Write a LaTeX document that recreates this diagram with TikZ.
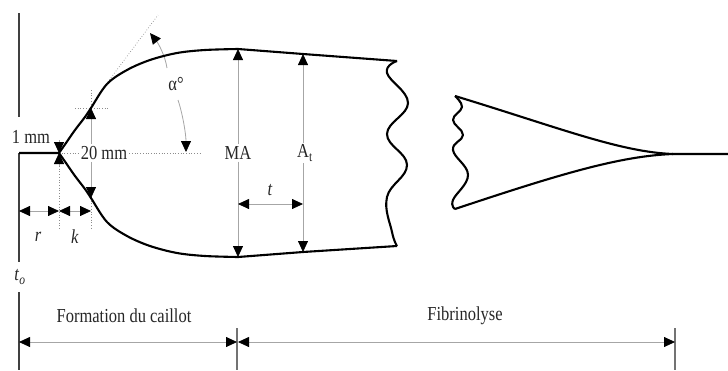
\documentclass[tikz,border=0pt]{standalone}
\usepackage{fontspec}
\usepackage{graphicx}
\setmainfont{Liberation Serif}
\usetikzlibrary{arrows.meta,calc}
\newcommand\vsc[1]{\scalebox{1}[1.2]{#1}}
\begin{document}
\begin{tikzpicture}[x=1pt,y=-1pt,
  >={Triangle[length=11pt,width=10pt,color=black]},
  curve/.style={line width=2.1pt, black, line join=round},
  axisline/.style={line width=1.3pt, black!75},
  tlline/.style={line width=1.1pt, black!55},
  dim/.style={line width=0.8pt, black!35},
  guide/.style={dotted, line width=0.7pt, black!45},
  lab/.style={font=\fontsize{16.5}{18}\selectfont, text=black!85, inner sep=2pt}]
\useasboundingbox (0,0) rectangle (728,370);

% ---------- named points
\coordinate (axTop) at (19,13);
\coordinate (axGap1) at (19,117);
\coordinate (base0) at (19,153);
\coordinate (axGap2) at (19,262);
\coordinate (axGap3) at (19,292);
\coordinate (axBot) at (19,370);
\coordinate (split) at (59,153);
\coordinate (top20) at (91,108);
\coordinate (bot20) at (91,198);
\coordinate (maT) at (238,49);
\coordinate (maB) at (238,257);
\coordinate (atT) at (303,54);
\coordinate (atB) at (303,252);
\coordinate (rT) at (397,61);
\coordinate (rB) at (397,246);
\coordinate (lT) at (455,96);
\coordinate (lB) at (455,209);
\coordinate (tip) at (673,154);
\coordinate (endR) at (728,154);

% ---------- text nodes
\node[lab] (n1mm) at (31,137) {\vsc{1 mm}};
\node[lab] (n20) at (104,153) {\vsc{20 mm}};
\node[lab] (alpha) at (176,84) {\vsc{α°}};
\node[lab] (MA) at (238,153) {\vsc{MA}};
\node[lab] (At) at (305,153) {\vsc{A\textsubscript{t}}};
\node[lab] (tlab) at (270,190) {\vsc{\textit{t}}};
\node[lab] (rlab) at (38,237) {\vsc{\textit{r}}};
\node[lab] (klab) at (75,237) {\vsc{\textit{k}}};
\node[lab] (t0) at (20,277) {\vsc{\textit{t}\textsubscript{\textit{o}}}};
\node[lab] (form) at (124,316) {\vsc{Formation du caillot}};
\node[lab] (fib) at (465,316) {\vsc{Fibrinolyse}};

% ---------- guides (dotted)
\draw[guide] (split) -- (n20.west);
\draw[guide] (n20.east) -- (200,153) coordinate (dotEnd);
\draw[guide] (75,108) coordinate (h1) -- (108,108) coordinate (h2);
\draw[guide] (91,90) coordinate (v1) -- (top20);
\draw[guide] (bot20) -- (91,230) coordinate (v2);
\draw[guide] (59,166) -- (59,230) coordinate (v3);
\draw[guide] (98,95) coordinate (tg1) -- (158,15) coordinate (tg2);

% ---------- axis / time lines
\draw[axisline] (axTop) -- (axGap1);
\draw[axisline] (base0) -- (axGap2);
\draw[axisline] (axGap3) -- (axBot);
\draw[tlline] (237,328) coordinate (fa) -- (237,370) coordinate (fb);
\draw[tlline] (675,328) coordinate (ga) -- (675,370) coordinate (gb);
\draw[dim,<->] (19,342) coordinate (p1) -- (237,342) coordinate (p2);
\draw[dim,<->] (238,342) coordinate (p3) -- (675,342) coordinate (p4);

% ---------- dimension arrows
\draw[dim,->] (59,140) coordinate (m1) -- (split);
\draw[dim,->] (59,166) coordinate (m2) -- (split);
\draw[dim,->] (top20 |- n20.north) -- (top20);
\draw[dim,->] (top20 |- n20.south) -- (bot20);
\draw[dim,<->] (19,211) coordinate (rL) -- (59,211) coordinate (rR);
\draw[dim,<->] (rR) -- (91,211) coordinate (kR);
\draw[dim,->] (MA.north) -- (maT);
\draw[dim,->] (MA.south) -- (maB);
\draw[dim,->] (atT |- At.north) -- (atT);
\draw[dim,->] (atT |- At.south) -- (atB);
\draw[dim,<->] (238,204) coordinate (tL) -- (303,204) coordinate (tR);
\draw[dim,->] (167,68) coordinate (a1) .. controls (165,55) and (158,43) .. (150,33) coordinate (a2);
\draw[dim,->] (178,100) coordinate (a3) .. controls (183,115) and (186,135) .. (186,152) coordinate (a4);

% ---------- curves
\draw[curve] (base0) -- plot[smooth, tension=0.55] coordinates {(59,153) (66,143) (75,130) (85,117) (91,108) (107,84) (127,70) (150,60) (177,53) (205,50) (238,49)} -- (atT) -- (rT);
\draw[curve] (split) -- plot[smooth, tension=0.55] coordinates {(59,153) (66,163) (75,176) (85,189) (91,198) (107,222) (127,236) (150,246) (177,253) (205,256) (238,257)} -- (atB) -- (rB);
\draw[curve] plot[smooth, tension=0.7] coordinates {(397,61) (387,73) (408,103) (387,134) (407,165) (387,197) (392,232) (397,246)};
\draw[curve] plot[smooth, tension=0.7] coordinates {(455,96) (462,107) (453,120) (463,135) (453,150) (468,175) (453,200) (455,209)};
\draw[curve] (lT) .. controls (560,128) and (620,152) .. (tip) -- (endR);
\draw[curve] (lB) .. controls (560,174) and (620,156) .. (tip);
\end{tikzpicture}
\end{document}
